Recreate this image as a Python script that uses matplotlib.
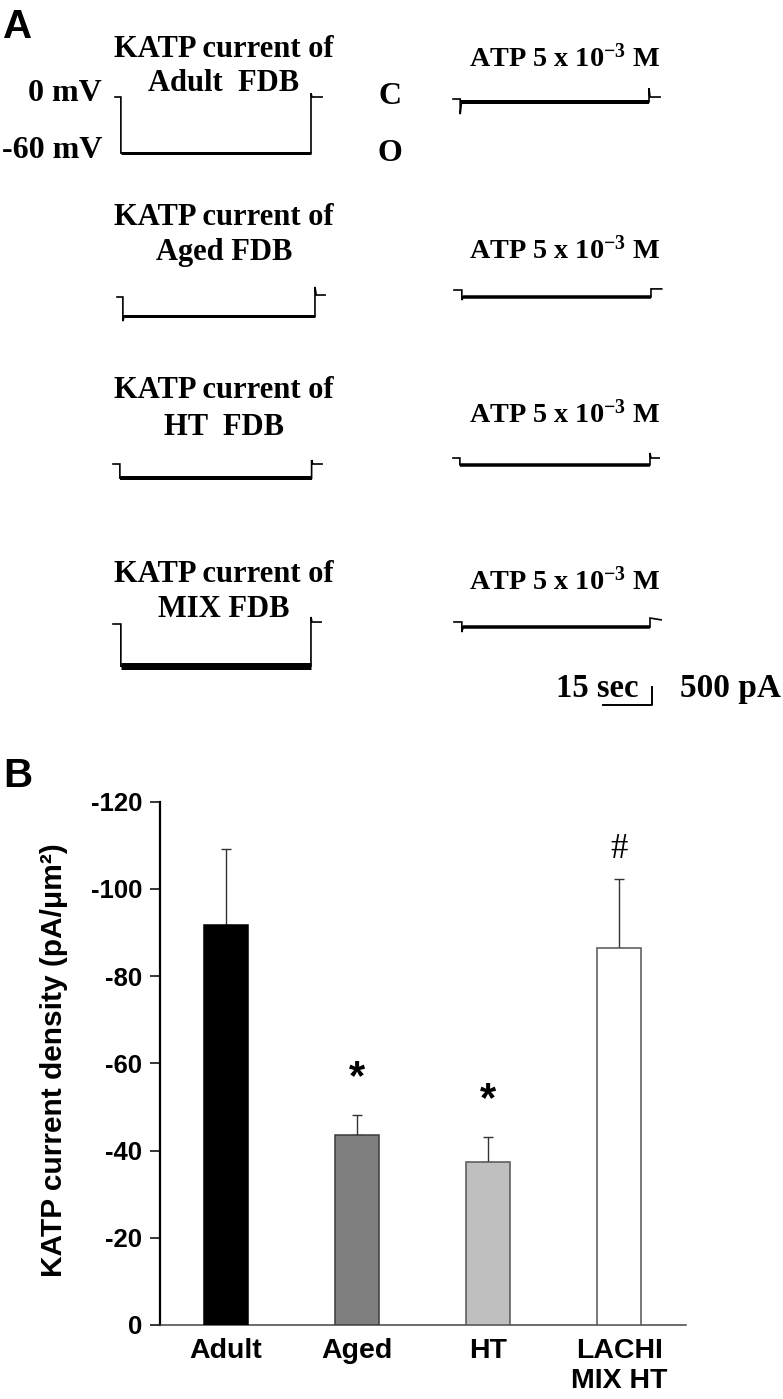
import matplotlib
matplotlib.use("Agg")
import matplotlib.pyplot as plt

plt.rcParams['mathtext.fontset'] = 'custom'
plt.rcParams['mathtext.rm'] = 'Liberation Serif:bold'
plt.rcParams['mathtext.it'] = 'Liberation Serif:bold'
plt.rcParams['mathtext.bf'] = 'Liberation Serif:bold'

# ---------------- data ----------------
# Panel B: KATP current density (pA/um^2)
groups = ["Adult", "Aged", "HT", "LACHI\nMIX HT"]
density = [-91.8, -43.6, -37.4, -86.4]
density_err = [17.4, 4.6, 5.7, 15.9]
bar_colors = ["#000000", "#7f7f7f", "#bfbfbf", "#ffffff"]
marks = ["", "*", "*", ""]
hash_marks = ["", "", "", "#"]
y_ticks = [0, -20, -40, -60, -80, -100, -120]

# Panel A: patch-clamp traces (time in s, current in pA relative to holding)
adult_t = [0, 1.8, 1.8, 60.0, 60.0, 60.3, 63.4]
adult_i = [0, 0, -1555, -1555, 100, 0, 0]
adult_atp_t = [0, 2.2, 2.2, 2.6, 60.0, 60.0, 60.3, 63.4]
adult_atp_i = [0, 0, -420, -85, -85, 300, 55, 55]
aged_t = [0, 1.8, 1.8, 2.2, 60.6, 60.6, 61.0, 63.7]
aged_i = [0, 0, -670, -530, -530, 280, 55, 55]
aged_atp_t = [0, 2.4, 2.4, 2.8, 60.3, 60.3, 63.6]
aged_atp_i = [0, 0, -280, -195, -195, 30, 30]
ht_t = [0, 2.1, 2.1, 60.8, 60.8, 61.1, 64.0]
ht_i = [0, 0, -390, -390, 110, 0, 0]
ht_atp_t = [0, 2.1, 2.1, 60.3, 60.3, 60.6, 63.1]
ht_atp_i = [0, 0, -190, -190, 140, 0, 0]
mix_t = [0, 2.4, 2.4, 60.6, 60.6, 60.9, 63.7]
mix_i = [0, 0, -1170, -1170, 195, 55, 55]
mix_atp_t = [0, 2.4, 2.4, 2.8, 60.0, 60.0, 63.4]
mix_atp_i = [0, 0, -280, -140, -140, 110, 60]
scale_t = [0, 15, 15]
scale_i = [0, 0, 500]

# ---------------- figure ----------------
W, H = 783, 1399
fig = plt.figure(figsize=(W / 100, H / 100), dpi=100)

def fx(x):
    return x / W

def fy(y):
    return 1 - y / H

PX_S = 49 / 15.0     # pixels per second
PX_PA = 18 / 500.0   # pixels per pA

def trace_axes(x0, y0):
    t_lo, t_hi = -3, 67
    i_lo, i_hi = -2000, 600
    ax = fig.add_axes([fx(x0 + t_lo * PX_S), fy(y0 - i_lo * PX_PA),
                       (t_hi - t_lo) * PX_S / W, (i_hi - i_lo) * PX_PA / H])
    ax.set_xlim(t_lo, t_hi)
    ax.set_ylim(i_lo, i_hi)
    ax.axis('off')
    return ax

def draw_trace(x0, y0, t, i, band_px, open_idx):
    ax = trace_axes(x0, y0)
    ax.plot(t, i, color='black', lw=1.2, solid_joinstyle='miter')
    a, b = open_idx
    ax.plot([t[a], t[b]], [i[a], i[b]], color='black', lw=band_px * 0.72,
            solid_capstyle='butt')

draw_trace(115, 97, adult_t, adult_i, 3, (2, 3))
draw_trace(453, 99, adult_atp_t, adult_atp_i, 4, (3, 4))
draw_trace(117, 297, aged_t, aged_i, 3, (3, 4))
draw_trace(454, 290, aged_atp_t, aged_atp_i, 3.5, (3, 4))
draw_trace(113, 464, ht_t, ht_i, 4, (2, 3))
draw_trace(453, 458, ht_atp_t, ht_atp_i, 3.5, (2, 3))
draw_trace(113, 624, mix_t, mix_i, 7, (2, 3))
draw_trace(454, 622, mix_atp_t, mix_atp_i, 3.5, (3, 4))

sax = trace_axes(603, 705)
sax.plot(scale_t, scale_i, color='black', lw=1.4)

serif = dict(family='Liberation Serif', weight='bold', color='black')

def ptext(x, y, s, size, ha='center', va='baseline', **kw):
    d = dict(serif)
    d.update(kw)
    fig.text(fx(x), fy(y), s, fontsize=size, ha=ha, va=va, **d)

# panel letters
fig.text(fx(3), fy(38), "A", fontsize=29, family='Liberation Sans',
         weight='bold', ha='left', va='baseline')
fig.text(fx(3), fy(787), "B", fontsize=29, family='Liberation Sans',
         weight='bold', ha='left', va='baseline')

titles = [("Adult  FDB", 57, 91), ("Aged FDB", 225, 260),
          ("HT  FDB", 398, 435), ("MIX FDB", 582, 617)]
for name, y1, y2 in titles:
    ptext(224, y1, "KATP current of", 22)
    ptext(224, y2, name, 22)

for yb in [67, 259, 423, 590]:
    ptext(565, yb, r"ATP 5 x 10$^{-3}$ M", 20.3)

ptext(102, 101, "0 mV", 23, ha='right')
ptext(102, 158, "-60 mV", 23, ha='right')
ptext(390, 104, "C", 23)
ptext(390, 161, "O", 23)
ptext(556, 697, "15 sec", 23.5, ha='left')
ptext(781, 697, "500 pA", 24, ha='right')

# ---------------- panel B ----------------
ax_left, ax_right = 160, 686
ax_top, ax_bot = 801.7, 1325
ax = fig.add_axes([fx(ax_left), fy(ax_bot), (ax_right - ax_left) / W,
                   (ax_bot - ax_top) / H])
x = list(range(len(groups)))
edge_cols = ["#000000", "#3a3a3a", "#555555", "#555555"]
ax.bar(x, density, width=0.34, color=bar_colors, edgecolor=edge_cols,
       linewidth=1.1, zorder=3)
ax.errorbar(x, density, yerr=[density_err, [0] * len(x)], fmt='none',
            ecolor='#333333', elinewidth=1.0, capsize=3.6, capthick=1.0,
            zorder=2)
ax.set_ylim(0, -120)
ax.set_xlim(-0.504, 3.51)
ax.set_yticks(y_ticks)
ax.set_yticklabels([str(v) for v in y_ticks])
ax.set_xticks(x)
ax.set_xticklabels(groups)
for lab in ax.get_xticklabels():
    lab.set_fontfamily('Liberation Sans')
    lab.set_fontweight('bold')
    lab.set_fontsize(20.5)
    lab.set_linespacing(1.25)
for lab in ax.get_yticklabels():
    lab.set_fontfamily('Liberation Sans')
    lab.set_fontweight('bold')
    lab.set_fontsize(18.5)
ax.tick_params(axis='x', length=0, pad=9)
ax.tick_params(axis='y', length=7, width=1.1, direction='out', pad=6)
for s in ['top', 'right']:
    ax.spines[s].set_visible(False)
ax.spines['left'].set_linewidth(1.6)
ax.spines['bottom'].set_linewidth(1.1)
ax.spines['bottom'].set_color('#444444')

for xi, v, e, m in zip(x, density, density_err, marks):
    if m:
        ax.text(xi, v - e - 6.0, m, fontsize=30, family='Liberation Sans',
                weight='bold', ha='center', va='baseline')
for xi, v, e, m in zip(x, density, density_err, hash_marks):
    if m:
        ax.text(xi, v - e - 4.8, m, fontsize=25, family='Liberation Serif',
                ha='center', va='baseline')

fig.text(fx(54), fy(1060), "KATP current density (pA/\u03bcm\u00b2)",
         rotation=90, fontsize=21.5, family='Liberation Sans', weight='bold',
         ha='center', va='center')

fig.savefig("out.png", dpi=100)
